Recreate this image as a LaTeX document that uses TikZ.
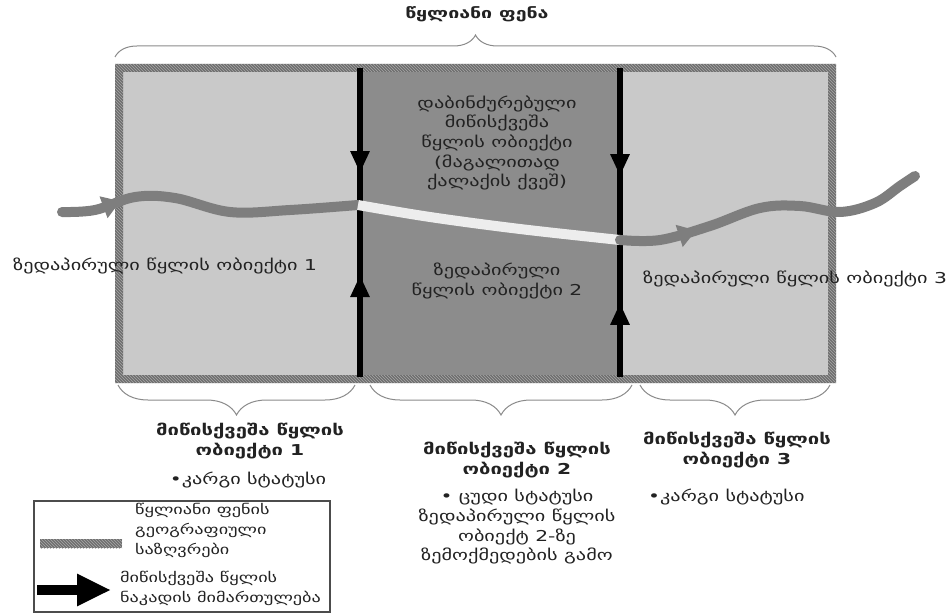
\documentclass[tikz,border=0pt]{standalone}
\usepackage{fontspec}
\setmainfont[FakeStretch=1.35]{DejaVu Sans}
\usetikzlibrary{decorations.pathreplacing,decorations.markings,arrows.meta,patterns}
\definecolor{layerlight}{HTML}{C9C9C9}
\definecolor{layerdark}{HTML}{8C8C8C}
\definecolor{edgegray}{HTML}{6E6E6E}
\definecolor{hatchgray}{HTML}{A8A8A8}
\definecolor{rivergray}{HTML}{7E7E7E}
\definecolor{riverpale}{HTML}{EDEDED}
\definecolor{bracegray}{HTML}{8A8A8A}
\definecolor{inkgray}{HTML}{222222}
\tikzset{
  flowtip/.tip={Triangle[width=18pt,length=22pt]},
  rivertip/.tip={Triangle[width=22pt,length=18pt]}
}
\begin{document}
\begin{tikzpicture}[x=1pt,y=-1pt,
  txt/.style={text=inkgray, font=\fontsize{15}{19.7}\selectfont, inner sep=0pt, align=center},
  btxt/.style={text=inkgray, font=\bfseries\fontsize{15}{19.7}\selectfont, inner sep=0pt, align=center},
  lgtxt/.style={text=inkgray, font=\fontsize{13.5}{20}\selectfont, inner sep=0pt, align=left, anchor=north west},
  bracetop/.style={draw=bracegray, line width=1pt, decorate, decoration={brace, amplitude=22pt}},
  bracebot/.style={draw=bracegray, line width=1pt, decorate, decoration={brace, mirror, amplitude=30pt}},
  flowline/.style={draw=black, line width=6pt},
  river/.style={line width=10pt, line cap=round}
]
\useasboundingbox (0,0) rectangle (952,615);

% aquifer body
\fill[layerlight] (123,72) rectangle (828,375);
\fill[layerdark] (358,70) rectangle (622,375);

% hatched boundary band
\fill[edgegray, even odd rule] (115,64) rectangle (836,383) (123,72) rectangle (828,375);
\fill[pattern=north west lines, pattern color=hatchgray, even odd rule] (115,64) rectangle (836,383) (123,72) rectangle (828,375);

% flow-direction lines between groundwater bodies
\coordinate (l1) at (360,68);
\coordinate (l2) at (360,377);
\coordinate (r1) at (620,68);
\coordinate (r2) at (620,377);
\draw[flowline, postaction={decorate}, decoration={markings,
  mark=at position 0.34 with {\arrow{flowtip}},
  mark=at position 0.67 with {\arrowreversed{flowtip}}}] (l1) -- (l2);
\draw[flowline, postaction={decorate}, decoration={markings,
  mark=at position 0.35 with {\arrow{flowtip}},
  mark=at position 0.76 with {\arrowreversed{flowtip}}}] (r1) -- (r2);

% river
\coordinate (s0) at (62,212);
\coordinate (s1) at (358,205);
\coordinate (s2) at (620,240);
\coordinate (s3) at (915,176);
\draw[river, rivergray, postaction={decorate}, decoration={markings,
  mark=at position 0.2 with {\arrow{rivertip}}}]
  plot[smooth, tension=0.6] coordinates {(s0) (95,210) (135,197) (175,198) (230,212) (290,210) (s1)};
\draw[river, riverpale, line cap=butt]
  plot[smooth, tension=0.6] coordinates {(s1) (430,217) (520,229) (s2)};
\draw[river, rivergray, postaction={decorate}, decoration={markings,
  mark=at position 0.25 with {\arrow{rivertip}}}]
  plot[smooth, tension=0.6] coordinates {(s2) (660,240) (710,226) (760,208) (800,206) (840,212) (875,203) (900,186) (s3)};

% braces
\draw[bracetop] (115,57) -- (836,57);
\draw[bracebot] (118,385) -- (355,385);
\draw[bracebot] (370,385) -- (632,385);
\draw[bracebot] (640,385) -- (830,385);

% labels
\node[btxt, font=\bfseries\fontsize{14.5}{18}\selectfont] (title) at (477,14) {წყლიანი ფენა};
\node[txt] (gw2a) at (497,143) {დაბინძურებული\\მიწისქვეშა\\წყლის ობიექტი\\(მაგალითად\\ქალაქის ქვეშ)};
\node[txt] (sw2) at (497,281) {ზედაპირული\\წყლის ობიექტი 2};
\node[txt, anchor=west] (sw1) at (13,266) {ზედაპირული წყლის ობიექტი 1};
\node[txt, anchor=west] (sw3) at (643,279) {ზედაპირული წყლის ობიექტი 3};

\node[btxt] (gw1) at (250,441) {მიწისქვეშა წყლის\\ობიექტი 1};
\node[txt] (st1) at (248,480) {•კარგი სტატუსი};
\node[btxt] (gw2) at (517,460) {მიწისქვეშა წყლის\\ობიექტი 2};
\node[txt] (st2) at (517,527) {• ცუდი სტატუსი\\ზედაპირული წყლის\\ობიექტ 2-ზე\\ზემოქმედების გამო};
\node[btxt] (gw3) at (737,450) {მიწისქვეშა წყლის\\ობიექტი 3};
\node[txt, anchor=west] (st3) at (648,497) {•კარგი სტატუსი};

% legend
\draw[black!70, line width=1.2pt] (34,501) rectangle (330,612);
\fill[edgegray] (40,539) rectangle (122,548);
\fill[pattern=north west lines, pattern color=hatchgray] (40,539) rectangle (122,548);
\node[lgtxt] (lg1) at (135,503) {წყლიანი ფენის\\გეოგრაფიული\\საზღვრები};
\coordinate (a0) at (37,590);
\coordinate (a1) at (111,590);
\draw[black, line width=10pt, -{Triangle[width=30pt,length=34pt]}] (a0) -- (a1);
\node[lgtxt] (lg2) at (120,571) {მიწისქვეშა წყლის\\ნაკადის მიმართულება};
\end{tikzpicture}
\end{document}
